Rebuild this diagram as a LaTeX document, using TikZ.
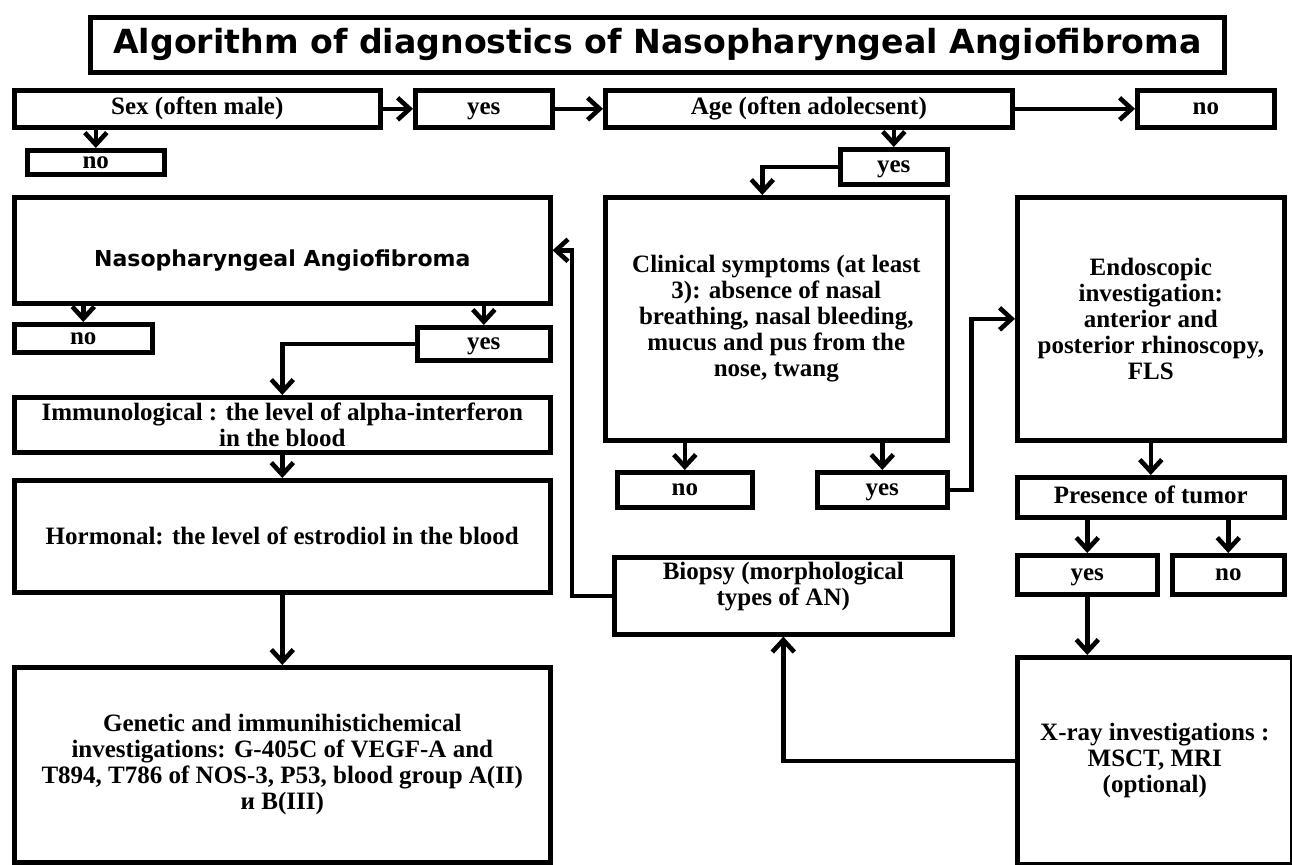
\documentclass[tikz,border=0pt]{standalone}
\usepackage{fontspec}
\setmainfont{Liberation Serif}
\newfontfamily\headfont{DejaVu Sans}
\usetikzlibrary{arrows.meta}

\begin{document}
\begin{tikzpicture}[x=0.5pt,y=-0.5pt,line width=2.3pt,>={Straight Barb[length=6pt,width=11pt]},
  box/.style={rectangle,draw=black,fill=white,text=black,inner sep=0pt,anchor=north west,align=center,font=\bfseries\fontsize{12.5}{13}\selectfont},
  ansbox/.style={box,text height=6.5pt,text depth=0.5pt},
  headbox/.style={box,font=\headfont\bfseries\fontsize{16.6}{20}\selectfont},
  arr/.style={->,draw=black}]
\useasboundingbox (0,0) rectangle (1292,864);
% title
\node[headbox,minimum width=567pt,minimum height=27.5pt] (title) at (88,15) {Algorithm of diagnostics of Nasopharyngeal Angiofibroma};
% first row
\node[ansbox,minimum width=183pt,minimum height=18.5pt] (sex) at (12,88) {Sex (often male)};
\node[ansbox,minimum width=68.5pt,minimum height=18.5pt] (yessex) at (413,88) {yes};
\node[ansbox,minimum width=203.5pt,minimum height=18.5pt] (age) at (603,88) {Age (often adolecsent)};
\node[ansbox,minimum width=68.5pt,minimum height=18.5pt] (noage) at (1135,88) {no};
\node[ansbox,minimum width=68.5pt,minimum height=12pt] (nosex) at (25,148) {no};
\node[ansbox,minimum width=53.5pt,minimum height=17.5pt] (yesage) at (838,147) {yes};
% left column
\node[box,minimum width=268pt,minimum height=53pt,text height=19pt,text depth=2.5pt,font=\headfont\bfseries\fontsize{11}{13}\selectfont] (angio) at (12,195) {Nasopharyngeal Angiofibroma};
\node[ansbox,minimum width=69pt,minimum height=14pt] (noangio) at (12,322) {no};
\node[ansbox,minimum width=66.5pt,minimum height=16.5pt] (yesangio) at (415,325) {yes};
\node[box,minimum width=268pt,minimum height=27.5pt] (immun) at (12,395) {Immunological : the level of alpha-interferon\\in the blood};
\node[box,minimum width=268pt,minimum height=56pt] (hormon) at (12,478) {Hormonal: the level of estrodiol in the blood};
\node[box,minimum width=268pt,minimum height=97.5pt] (genet) at (12,665) {Genetic and immunihistichemical\\investigations: G-405C of VEGF-A and\\T894, T786 of NOS-3, P53, blood group A(II)\\и B(III)};
% middle column
\node[box,minimum width=171pt,minimum height=121.5pt] (clinic) at (603,195) {Clinical symptoms (at least\\3): absence of nasal\\breathing, nasal bleeding,\\mucus and pus from the\\nose, twang};
\node[ansbox,minimum width=67.5pt,minimum height=17.5pt] (noclinic) at (615,470) {no};
\node[ansbox,minimum width=65pt,minimum height=17.5pt] (yesclinic) at (815,470) {yes};
\node[box,minimum width=169pt,minimum height=38.5pt,text height=17pt,text depth=7.5pt] (biopsy) at (612,555) {Biopsy (morphological\\types of AN)};
% right column
\node[box,minimum width=133.5pt,minimum height=121.5pt] (endo) at (1015,195) {Endoscopic\\investigation:\\anterior and\\posterior rhinoscopy,\\FLS};
\node[ansbox,minimum width=133.5pt,minimum height=20pt] (tumor) at (1015,475) {Presence of tumor};
\node[ansbox,minimum width=70pt,minimum height=19.5pt] (yestumor) at (1015,553) {yes};
\node[ansbox,minimum width=56pt,minimum height=19.5pt] (notumor) at (1170,553) {no};
\node[box,minimum width=137.5pt,minimum height=103.5pt] (xray) at (1015,655) {X-ray investigations :\\MSCT, MRI\\(optional)};
% connectors
\draw[arr] (sex) -- (yessex);
\draw[arr] (yessex) -- (age);
\draw[arr] (age) -- (noage);
\draw[arr] (nosex.north |- sex.south) -- (nosex.north);
\draw[arr] (yesage.north |- age.south) -- (yesage.north);
\draw[arr] (yesage.west) -| ([xshift=-7pt]clinic.north);
\draw[arr] (noangio.north |- angio.south) -- (noangio.north);
\draw[arr] (yesangio.north |- angio.south) -- (yesangio.north);
\draw[arr] (yesangio.west) -| (immun.north);
\draw[arr] (immun) -- (hormon);
\draw[arr] (hormon) -- (genet);
\draw[arr] (noclinic.north |- clinic.south) -- (noclinic.north);
\draw[arr] (yesclinic.north |- clinic.south) -- (yesclinic.north);
\draw[arr] (yesclinic.east) -- ++(11pt,0) |- (endo.west);
\draw[arr] (endo) -- (tumor);
\draw[arr] (yestumor.north |- tumor.south) -- (yestumor.north);
\draw[arr] (notumor.north |- tumor.south) -- (notumor.north);
\draw[arr] (yestumor.south) -- (yestumor.south |- xray.north);
\draw[arr] (xray.west) -| (biopsy.south);
\draw[arr] (biopsy.west) -- ++(-20pt,0) |- (angio.east);
\end{tikzpicture}
\end{document}
